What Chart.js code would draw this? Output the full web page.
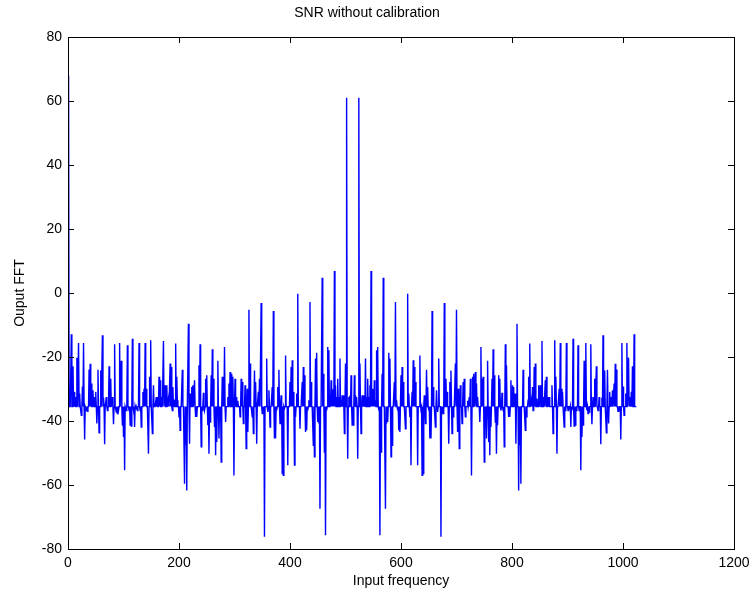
<!DOCTYPE html>
<html>
<head>
<meta charset="utf-8">
<title>SNR without calibration</title>
<script src="https://cdn.jsdelivr.net/npm/chart.js@4.4.0/dist/chart.umd.min.js"></script>
<style>
    html, body { margin: 0; padding: 0; background: #ffffff; }
    #wrap { width: 753px; height: 594px; }
</style>
</head>
<body>
<div id="wrap"><canvas id="fftChart" width="753" height="594"></canvas></div>
<script>
// =========================================================
// DATA
// =========================================================

const binCount = 1024;      // FFT length, plotted as 1..1024
const floorLevel = -35.5;   // the flat noise floor between the spurs

// spurs on the lower half of the spectrum (bin, level)
const lowerBins = [
    1, 6, 9, 11, 13, 16, 19, 21, 24, 26, 28, 30, 33, 35, 38, 40, 42, 45, 47, 50,
    52, 54, 56, 59, 62, 64, 66, 69, 71, 74, 77, 80, 82, 84, 87, 89, 91, 93, 96, 98,
    100, 102, 105, 107, 110, 112, 114, 116, 118, 120, 122, 125, 128, 130, 132, 135, 137, 139, 141, 145,
    147, 149, 152, 154, 159, 161, 164, 166, 169, 172, 175, 178, 181, 184, 186, 188, 189, 191, 194, 196,
    197, 200, 202, 206, 210, 212, 214, 217, 219, 220, 223, 225, 228, 230, 232, 236, 238, 240, 242, 244,
    246, 248, 250, 252, 254, 256, 258, 260, 262, 264, 266, 268, 270, 272, 274, 276, 278, 280, 282, 284,
    288, 290, 292, 295, 297, 299, 301, 303, 306, 310, 312, 314, 316, 319, 321, 323, 324, 326, 328, 332,
    334, 336, 338, 340, 343, 345, 348, 350, 352, 354, 358, 360, 362, 364, 368, 370, 372, 374, 376, 378,
    380, 382, 384, 386, 388, 390, 392, 396, 400, 402, 404, 406, 408, 410, 412, 414, 418, 422, 424, 426,
    428, 430, 432, 434, 436, 438, 442, 444, 446, 448, 450, 452, 454, 458, 460, 462, 464, 466, 468, 470,
    472, 474, 476, 478, 480, 482, 484, 486, 488, 490, 492, 494, 496, 498, 500, 502, 504, 506, 508, 510,
    512
];
const lowerLevels = [
    68, -12.9, -22.9, -30.9, -32.5, -20.2, -15.6, -31.4, -38.2, -29.2, -15.6, -45.8, -36.7, -37, -23.9, -22.1, -28.3, -30.4, -32.5, -30.9,
    -40.8, -24, -43.7, -24.2, -13.2, -32.7, -47.3, -32.5, -36.7, -22.9, -26.8, -32.5, -41, -16, -37.2, -37.7, -36.7, -15.6, -21.2, -41.3,
    -45, -55.4, -36.7, -16.3, -36.7, -41.3, -41.6, -14.3, -36.7, -41.9, -36.4, -36.7, -15.6, -36.7, -41.9, -30.9, -29.9, -15.6, -29.9, -50.2,
    -26.2, -14.8, -43.9, -28.8, -32.5, -32.5, -26.2, -27.3, -32.5, -15, -28.8, -28.8, -33, -22, -23.1, -36.7, -29.4, -33.3, -15.8, -26.2,
    -33.5, -38.7, -42.9, -24, -59.6, -47.6, -61.7, -9.6, -47.1, -31.4, -29.4, -28.8, -27.3, -38.7, -38.7, -22.6, -16, -48.1, -36.7, -31.2,
    -36.7, -26.8, -25.7, -41.3, -50.2, -40.3, -25.7, -17.6, -26.8, -41.9, -50.7, -46.6, -21.2, -45.5, -39.8, -52.8, -26.2, -26.8, -16.9, -40.3,
    -32.5, -28.3, -24.7, -25.2, -26.2, -57, -26.8, -32.5, -33.7, -38.7, -26.8, -27.8, -40.8, -28.8, -48.6, -29.9, -43.4, -5.2, -22, -38.7,
    -43.9, -24.2, -27.8, -47.1, -30.9, -26.8, -3.1, -37.7, -37.7, -76.2, -20.5, -37.2, -30.4, -41.9, -29.4, -5.6, -45.5, -45.5, -36.7, -29.4,
    -24, -40.8, -32, -56.4, -57, -36.1, -19.5, -53.8, -27.8, -23.1, -21, -30.9, -53.8, -38.7, -31.4, -0.2, -42.4, -27.8, -23.1, -25.7,
    -43.4, -42.9, -36.7, -33.5, -2.8, -27.8, -47.6, -51.2, -20.5, -18.7, -40.3, -40.8, -67.4, 4.8, -25.2, -49.7, -75.7, -36.7, -16.9, -17.9,
    -33.5, -27.3, -30.4, -29.9, 6.9, -28.8, -32.5, -26.8, -32.5, -20.5, -33.5, -32, -32, -43.9, -22, 61, -51.8, -32.5, -32, -25.7,
    -41.3
];

// spurs on the upper half (the plot is the mirror image around bin 513)
const upperBins = [
    514, 516, 518, 520, 522, 524, 526, 528, 530, 532, 534, 536, 538, 540, 542, 544, 546, 548, 550, 552,
    554, 556, 558, 560, 562, 564, 566, 568, 572, 574, 576, 578, 580, 582, 584, 588, 590, 592, 594, 596,
    598, 600, 602, 604, 608, 612, 614, 616, 618, 620, 622, 624, 626, 630, 634, 636, 638, 640, 642, 644,
    646, 648, 650, 652, 654, 656, 658, 662, 664, 666, 668, 672, 674, 676, 678, 681, 683, 686, 688, 690,
    692, 694, 698, 700, 702, 703, 705, 707, 710, 712, 714, 716, 720, 723, 725, 727, 729, 731, 734, 736,
    738, 742, 744, 746, 748, 750, 752, 754, 756, 758, 760, 762, 764, 766, 768, 770, 772, 774, 776, 778,
    780, 782, 784, 786, 788, 790, 794, 796, 798, 801, 803, 806, 807, 809, 812, 814, 816, 820, 824, 826,
    829, 830, 832, 835, 837, 838, 840, 842, 845, 848, 851, 854, 857, 860, 862, 865, 867, 872, 874, 877,
    879, 881, 885, 887, 889, 891, 894, 896, 898, 901, 904, 906, 908, 910, 912, 914, 916, 919, 921, 924,
    926, 928, 930, 933, 935, 937, 939, 942, 944, 946, 949, 952, 955, 957, 960, 962, 964, 967, 970, 972,
    974, 976, 979, 981, 984, 986, 988, 991, 993, 996, 998, 1000, 1002, 1005, 1007, 1010, 1013, 1015, 1017, 1020
];
const upperLevels = [
    -41.3, -25.7, -32, -32.5, -51.8, 61, -22, -43.9, -32, -32, -33.5, -20.5, -32.5, -26.8, -32.5, -28.8, 6.9, -29.9, -30.4, -27.3,
    -33.5, -17.9, -16.9, -36.7, -75.7, -49.7, -25.2, 4.8, -67.4, -40.8, -40.3, -18.7, -20.5, -51.2, -47.6, -27.8, -2.8, -33.5, -36.7, -42.9,
    -43.4, -25.7, -23.1, -27.8, -42.4, -0.2, -31.4, -38.7, -53.8, -30.9, -21, -23.1, -27.8, -53.8, -19.5, -36.1, -57, -56.4, -32, -40.8,
    -24, -29.4, -36.7, -45.5, -45.5, -5.6, -29.4, -41.9, -30.4, -37.2, -20.5, -76.2, -37.7, -37.7, -3.1, -26.8, -30.9, -47.1, -27.8, -24.2,
    -43.9, -38.7, -22, -5.2, -43.4, -29.9, -48.6, -28.8, -40.8, -27.8, -26.8, -38.7, -33.7, -32.5, -26.8, -57, -26.2, -25.2, -24.7, -28.3,
    -32.5, -40.3, -16.9, -26.8, -26.2, -52.8, -39.8, -45.5, -21.2, -46.6, -50.7, -41.9, -26.8, -17.6, -25.7, -40.3, -50.2, -41.3, -25.7, -26.8,
    -36.7, -31.2, -36.7, -48.1, -16, -22.6, -38.7, -38.7, -27.3, -28.8, -29.4, -31.4, -47.1, -9.6, -61.7, -47.6, -59.6, -24, -42.9, -38.7,
    -33.5, -26.2, -15.8, -33.3, -29.4, -36.7, -23.1, -22, -33, -28.8, -28.8, -15, -32.5, -27.3, -26.2, -32.5, -32.5, -28.8, -43.9, -14.8,
    -26.2, -50.2, -29.9, -15.6, -29.9, -30.9, -41.9, -36.7, -15.6, -36.7, -36.4, -41.9, -36.7, -14.3, -41.6, -41.3, -36.7, -16.3, -36.7, -55.4,
    -45, -41.3, -21.2, -15.6, -36.7, -37.7, -37.2, -16, -41, -32.5, -26.8, -22.9, -36.7, -32.5, -47.3, -32.7, -13.2, -24.2, -43.7, -24,
    -40.8, -30.9, -32.5, -30.4, -28.3, -22.1, -23.9, -37, -36.7, -45.8, -15.6, -29.2, -38.2, -31.4, -15.6, -20.2, -32.5, -30.9, -22.9, -12.9
];

const xTicks = [0, 200, 400, 600, 800, 1000, 1200];
const yTicks = [-80, -60, -40, -20, 0, 20, 40, 60, 80];

const chartTitle = "SNR without calibration";
const xLabel = "Input frequency";
const yLabel = "Ouput FFT";

// =========================================================
// BUILD THE SERIES
// =========================================================

function buildSpectrum() {
    const levels = {};
    lowerBins.forEach((b, i) => { levels[b] = lowerLevels[i]; });
    upperBins.forEach((b, i) => { levels[b] = upperLevels[i]; });

    const points = [];
    for (let bin = 1; bin <= binCount; bin++) {
        points.push({ x: bin, y: (bin in levels) ? levels[bin] : floorLevel });
    }
    return points;
}

// MATLAB style frame: full box with ticks pointing inwards on all four sides
const TICK_LEN = 6;
const matlabFrame = {
    id: "matlabFrame",
    afterDatasetsDraw(chart) {
        const { ctx, chartArea: a, scales: { x, y } } = chart;
        ctx.save();
        ctx.strokeStyle = "#000000";
        ctx.lineWidth = 1;
        ctx.beginPath();
        xTicks.forEach(v => {
            const px = Math.round(x.getPixelForValue(v)) + 0.5;
            ctx.moveTo(px, a.bottom);
            ctx.lineTo(px, a.bottom - TICK_LEN);
            ctx.moveTo(px, a.top);
            ctx.lineTo(px, a.top + TICK_LEN);
        });
        yTicks.forEach(v => {
            const py = Math.round(y.getPixelForValue(v)) + 0.5;
            ctx.moveTo(a.left, py);
            ctx.lineTo(a.left + TICK_LEN, py);
            ctx.moveTo(a.right, py);
            ctx.lineTo(a.right - TICK_LEN, py);
        });
        ctx.stroke();
        ctx.strokeRect(Math.round(a.left) + 0.5, Math.round(a.top) + 0.5,
                       Math.round(a.right - a.left), Math.round(a.bottom - a.top));
        ctx.restore();
    }
};

// keep the tick labels from pushing the plot box inwards
function noOverflow(s) {
    s.paddingLeft = 0;
    s.paddingRight = 0;
    s.paddingTop = 0;
    s.paddingBottom = 0;
}

// =========================================================
// CHART
// =========================================================

const labelFont = { family: "'Liberation Sans', Arial, Helvetica, sans-serif", size: 14 };

new Chart(document.getElementById("fftChart"), {
    type: "line",
    data: {
        datasets: [{
            label: yLabel,
            data: buildSpectrum(),
            borderColor: "#0000ff",
            borderWidth: 1.4,
            pointRadius: 0,
            tension: 0,
            fill: false
        }]
    },
    options: {
        responsive: false,
        animation: false,
        events: [],
        layout: { padding: { top: 0, right: 19, bottom: 0, left: 0 } },
        plugins: {
            legend: { display: false },
            tooltip: { enabled: false },
            title: {
                display: true,
                text: chartTitle,
                color: "#000000",
                font: { ...labelFont, weight: "normal" },
                padding: { top: 5, bottom: 15.2 }
            }
        },
        scales: {
            x: {
                type: "linear",
                min: 0,
                max: 1200,
                afterBuildTicks: s => { s.ticks = xTicks.map(v => ({ value: v })); },
                afterFit: s => { s.height = 45; noOverflow(s); },
                grid: { display: false, drawTicks: false },
                border: { display: false },
                ticks: { color: "#000000", font: labelFont, padding: 6, maxRotation: 0, callback: v => String(v) },
                title: { display: true, text: xLabel, color: "#000000", font: labelFont, padding: { top: 0, bottom: 4.6 } }
            },
            y: {
                type: "linear",
                min: -80,
                max: 80,
                afterBuildTicks: s => { s.ticks = yTicks.map(v => ({ value: v })); },
                afterFit: s => { s.width = 68; noOverflow(s); },
                grid: { display: false, drawTicks: false },
                border: { display: false },
                ticks: { color: "#000000", font: labelFont, padding: 6, callback: v => String(v) },
                title: { display: true, text: yLabel, color: "#000000", font: labelFont, padding: { top: 11.6, bottom: 0 } }
            }
        }
    },
    plugins: [matlabFrame]
});
</script>
</body>
</html>
